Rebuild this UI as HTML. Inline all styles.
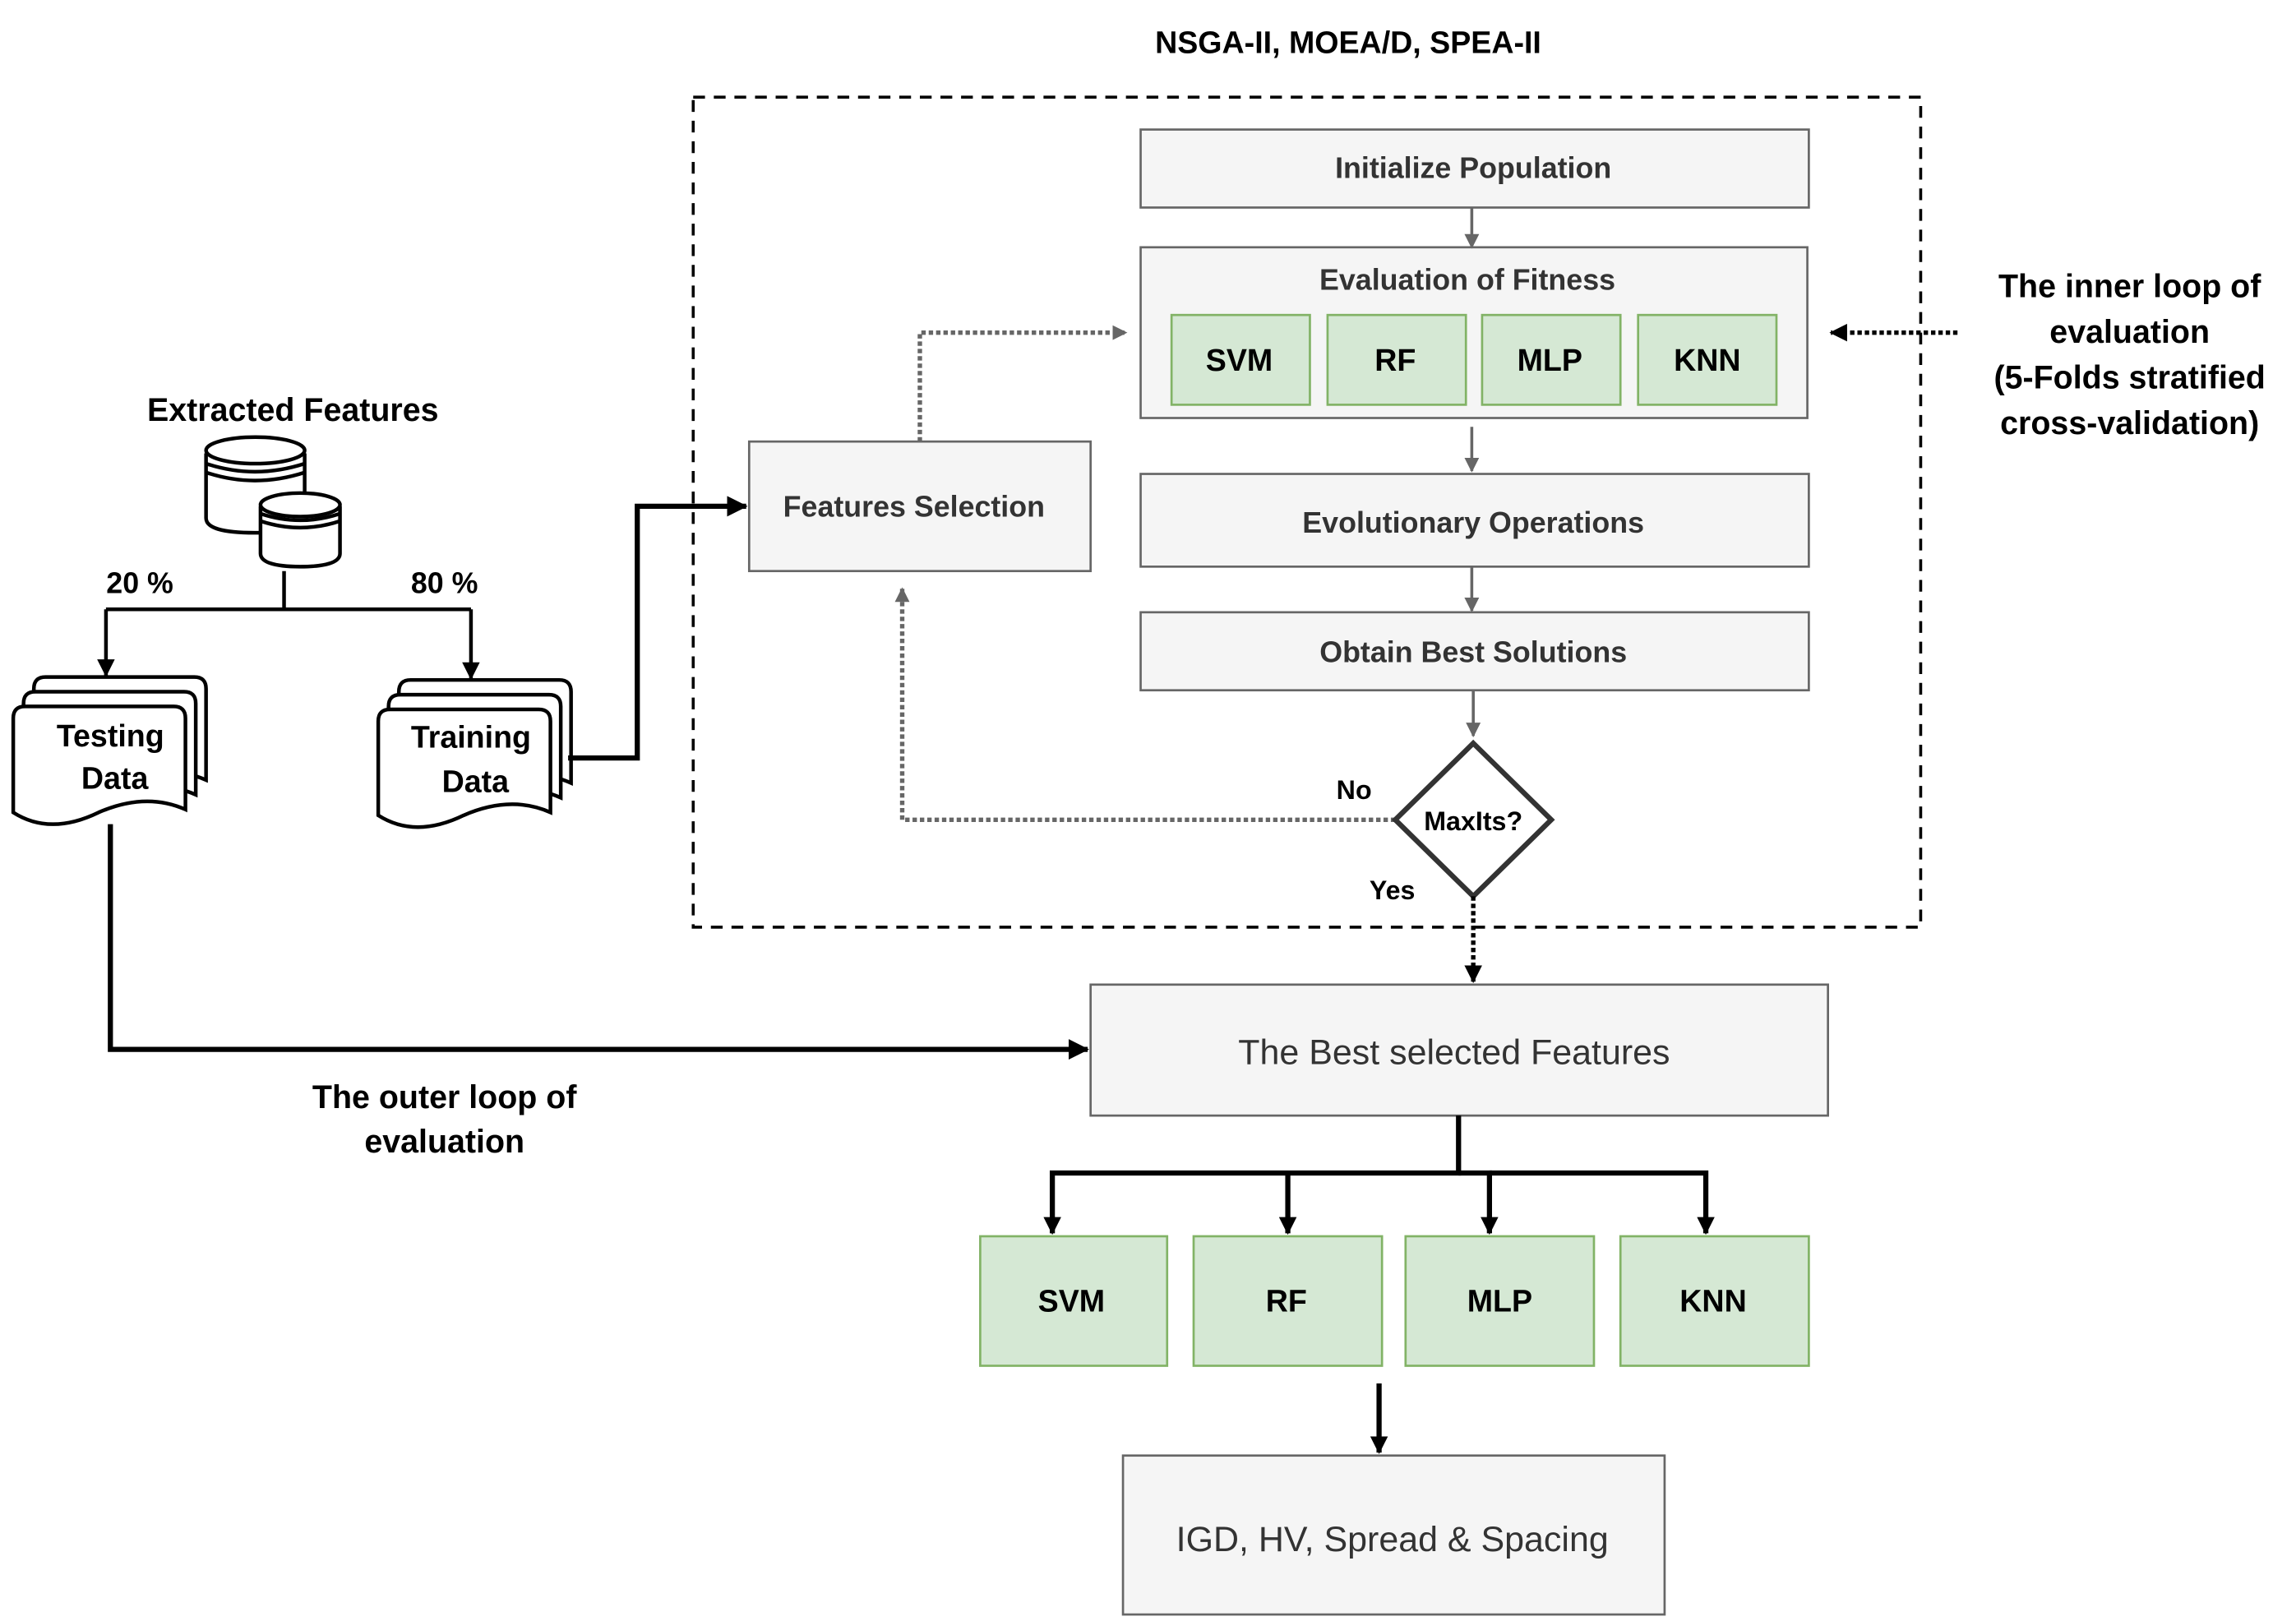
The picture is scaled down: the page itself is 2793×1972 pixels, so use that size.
<!DOCTYPE html>
<html><head><meta charset="utf-8"><style>
html,body{margin:0;padding:0;background:#fff;}
svg{display:block;}
text{font-family:"Liberation Sans",Arial,sans-serif;}
</style></head><body>
<svg width="2793" height="1972" viewBox="0 0 1560 1101.4" xmlns="http://www.w3.org/2000/svg">
<defs>
<marker id="ag" markerWidth="10" markerHeight="10" refX="9" refY="5" orient="auto" markerUnits="userSpaceOnUse"><path d="M0,0 L10,5 L0,10 Z" fill="#666"/></marker>
<marker id="ab" markerWidth="14" markerHeight="14" refX="13" refY="7" orient="auto" markerUnits="userSpaceOnUse"><path d="M0,0 L14,7 L0,14 Z" fill="#000"/></marker>
<marker id="abs" markerWidth="12" markerHeight="12" refX="11" refY="6" orient="auto" markerUnits="userSpaceOnUse"><path d="M0,0 L12,6 L0,12 Z" fill="#000"/></marker>
<path id="doc" d="M0,8 Q0,0 8,0 H109 Q117,0 117,8 V70 Q90,58 58,72 Q25,88 0,72 Z"/>
</defs>

<text x="916" y="36" font-size="21" font-weight="bold" text-anchor="middle" fill="#000">NSGA-II, MOEA/D, SPEA-II</text>
<rect x="471" y="66" width="834" height="564" fill="none" stroke="#000" stroke-width="2" stroke-dasharray="8,6"/>

<g fill="#f5f5f5" stroke="#666" stroke-width="1.5">
<rect x="775" y="88" width="454" height="53"/>
<rect x="775" y="168" width="453" height="116"/>
<rect x="775" y="322" width="454" height="63"/>
<rect x="775" y="416" width="454" height="53"/>
<rect x="509" y="300" width="232" height="88"/>
<rect x="741" y="669" width="501" height="89"/>
<rect x="763" y="989" width="368" height="108"/>
</g>
<g fill="#d5e8d4" stroke="#82b366" stroke-width="1.5">
<rect x="796" y="214" width="94" height="61"/>
<rect x="902" y="214" width="94" height="61"/>
<rect x="1007" y="214" width="94" height="61"/>
<rect x="1113" y="214" width="94" height="61"/>
<rect x="666" y="840" width="127" height="88"/>
<rect x="811" y="840" width="128" height="88"/>
<rect x="955" y="840" width="128" height="88"/>
<rect x="1101" y="840" width="128" height="88"/>
</g>

<g font-weight="bold" fill="#333" font-size="20" text-anchor="middle">
<text x="1001" y="121">Initialize Population</text>
<text x="997" y="197">Evaluation of Fitness</text>
<text x="1001" y="362">Evolutionary Operations</text>
<text x="1001" y="450">Obtain Best Solutions</text>
<text x="621" y="351">Features Selection</text>
</g>
<g font-weight="bold" fill="#000" font-size="21" text-anchor="middle">
<text x="842" y="252">SVM</text><text x="948" y="252">RF</text><text x="1053" y="252">MLP</text><text x="1160" y="252">KNN</text>
<text x="728" y="891">SVM</text><text x="874" y="891">RF</text><text x="1019" y="891">MLP</text><text x="1164" y="891">KNN</text>
</g>
<text x="988" y="723" font-size="24" fill="#333" text-anchor="middle">The Best selected Features</text>
<text x="946" y="1054" font-size="24" fill="#333" text-anchor="middle">IGD, HV, Spread &amp; Spacing</text>

<g stroke="#666" stroke-width="2" fill="none" marker-end="url(#ag)">
<line x1="1000" y1="141" x2="1000" y2="168"/>
<line x1="1000" y1="290" x2="1000" y2="320"/>
<line x1="1000" y1="385" x2="1000" y2="415"/>
<line x1="1001" y1="469" x2="1001" y2="500"/>
</g>
<g stroke="#666" stroke-width="3" fill="none" stroke-dasharray="3,2">
<path d="M948,557 H613 V400" marker-end="url(#ag)"/>
<path d="M625,300 V226 H765" marker-end="url(#ag)"/>
</g>

<polygon points="1001,505 1054,557 1001,609 948,557" fill="#fff" stroke="#333" stroke-width="3.5"/>
<text x="1001" y="564" font-size="18" font-weight="bold" text-anchor="middle" fill="#000">MaxIts?</text>
<text x="920" y="543" font-size="18" font-weight="bold" text-anchor="middle" fill="#000">No</text>
<text x="946" y="611" font-size="18" font-weight="bold" text-anchor="middle" fill="#000">Yes</text>

<g font-size="22" font-weight="bold" text-anchor="middle" fill="#000">
<text x="1447" y="202">The inner loop of</text>
<text x="1447" y="233">evaluation</text>
<text x="1447" y="264">(5-Folds stratified</text>
<text x="1447" y="295">cross-validation)</text>
</g>
<path d="M1330,226 H1244" stroke="#000" stroke-width="3" stroke-dasharray="3,2" fill="none" marker-end="url(#abs)"/>
<path d="M1001,609 V667" stroke="#000" stroke-width="3" stroke-dasharray="3,2" fill="none" marker-end="url(#abs)"/>

<g stroke="#000" stroke-width="3.5" fill="none">
<path d="M991,758 V797 H715 V838" marker-end="url(#abs)"/>
<path d="M875,797 V838" marker-end="url(#abs)"/>
<path d="M991,797 H1012 V838" marker-end="url(#abs)"/>
<path d="M1012,797 H1159 V838" marker-end="url(#abs)"/>
<path d="M937,940 V987" marker-end="url(#abs)"/>
</g>

<text x="199" y="286" font-size="22" font-weight="bold" text-anchor="middle" fill="#000">Extracted Features</text>
<g fill="#fff" stroke="#000" stroke-width="2.5">
<path d="M140,308 V352 Q140,362 173,362 Q207,362 207,352 V308"/>
<ellipse cx="173.5" cy="306" rx="33.5" ry="9"/>
<path d="M140,315 Q173,326 207,315 M140,321 Q173,332 207,321" fill="none"/>
<path d="M177,344 V376 Q177,385 204,385 Q231,385 231,376 V344"/>
<ellipse cx="204" cy="343" rx="27" ry="8"/>
<path d="M177,349 Q204,358 231,349 M177,354 Q204,363 231,354" fill="none"/>
</g>
<text x="95" y="403" font-size="20" font-weight="bold" text-anchor="middle" fill="#000">20 %</text>
<text x="302" y="403" font-size="20" font-weight="bold" text-anchor="middle" fill="#000">80 %</text>
<g stroke="#000" stroke-width="2.5" fill="none">
<path d="M193,388 V414"/>
<path d="M72,414 H320"/>
<path d="M72,414 V459" marker-end="url(#abs)"/>
<path d="M320,414 V461" marker-end="url(#abs)"/>
</g>

<g fill="#fff" stroke="#000" stroke-width="2.5">
<use href="#doc" transform="translate(23,460)"/>
<use href="#doc" transform="translate(16,470)"/>
<use href="#doc" transform="translate(9,480)"/>
<use href="#doc" transform="translate(271,462)"/>
<use href="#doc" transform="translate(264,472)"/>
<use href="#doc" transform="translate(257,482)"/>
</g>
<g font-size="21" font-weight="bold" text-anchor="middle" fill="#000">
<text x="75" y="507">Testing</text><text x="78" y="536">Data</text>
<text x="320" y="508">Training</text><text x="323" y="538">Data</text>
</g>

<g stroke="#000" stroke-width="3.5" fill="none">
<path d="M386,515 H433 V344 H507" marker-end="url(#ab)"/>
<path d="M75,560 V713 H739" marker-end="url(#ab)"/>
</g>
<g font-size="22" font-weight="bold" text-anchor="middle" fill="#000">
<text x="302" y="753">The outer loop of</text>
<text x="302" y="783">evaluation</text>
</g>
</svg>
</body></html>
